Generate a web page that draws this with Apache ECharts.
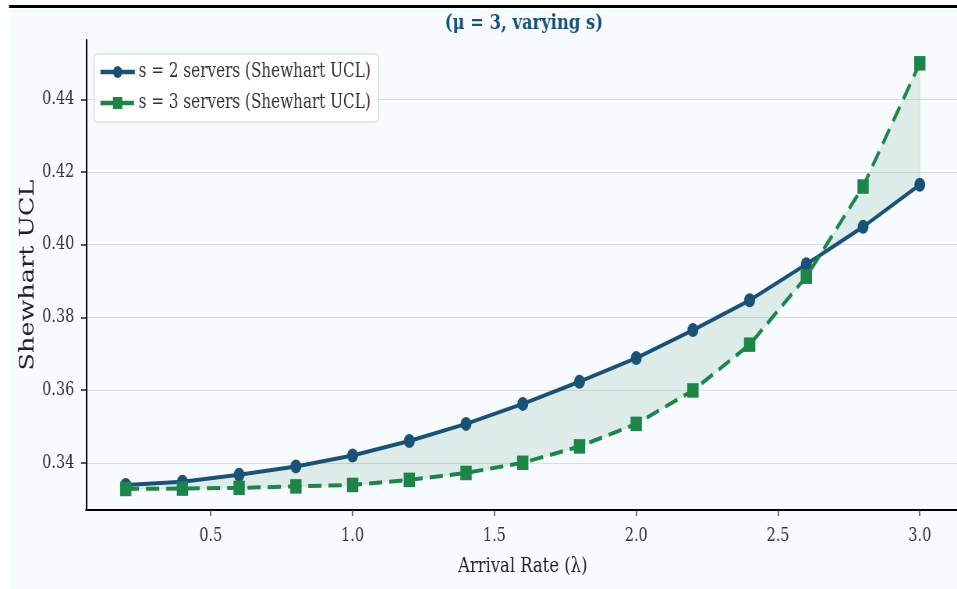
<!DOCTYPE html>
<html>
<head>
<meta charset="utf-8">
<script src="https://cdn.jsdelivr.net/npm/echarts@6/dist/echarts.min.js"></script>
<style>
  html, body { margin: 0; padding: 0; background: #fff; overflow: hidden; }
  #main { height: 589px; transform-origin: 0 0; }
</style>
</head>
<body>
<div id="main"></div>
<script>
// arrival rates and Shewhart UCL per server count
const lambdas = [0.2, 0.4, 0.6, 0.8, 1.0, 1.2, 1.4, 1.6, 1.8, 2.0, 2.2, 2.4, 2.6, 2.8, 3.0]
const ucl2 = [0.3339, 0.3348, 0.3367, 0.3390, 0.3420, 0.3460, 0.3507, 0.3562, 0.3623, 0.3688, 0.3765, 0.3847, 0.3946, 0.4049, 0.4165]
const ucl3 = [0.3328, 0.3329, 0.3331, 0.3335, 0.3339, 0.3353, 0.3372, 0.3400, 0.3445, 0.3507, 0.3599, 0.3725, 0.3912, 0.4160, 0.4499]
const xTicks = [0.5, 1.0, 1.5, 2.0, 2.5, 3.0]
const yTicks = [0.34, 0.36, 0.38, 0.40, 0.42, 0.44]
const seriesNames = ['s = 2 servers (Shewhart UCL)', 's = 3 servers (Shewhart UCL)']

// the reference is squeezed horizontally, so draw wider and scale x
const S = 0.78
const W = Math.round(957 / S)
const el = document.getElementById('main')
el.style.width = W + 'px'
el.style.transform = 'scaleX(' + S + ')'

const FONT = "'DejaVu Serif', serif"
const BLUE = '#1a5276'
const GREEN = '#1e8449'
const pxPerUnit = 283.6

const chart = echarts.init(el)

const option = {
  animation: false,
  backgroundColor: '#ffffff',
  graphic: [
    { type: 'rect', z: -100, shape: { x: 9 / S, y: 9, width: W, height: 580 }, style: { fill: '#f7fbff' }, silent: true },
    { type: 'rect', z: -99, shape: { x: 9 / S, y: 5, width: W, height: 3 }, style: { fill: '#000' }, silent: true }
  ],
  title: {
    text: '(μ = 3, varying s)',
    left: 520 / S,
    textAlign: 'center',
    top: 8,
    textStyle: { fontFamily: FONT, fontWeight: 'bold', fontSize: 21, color: BLUE }
  },
  legend: {
    data: seriesNames,
    orient: 'vertical',
    left: 94 / S,
    top: 54,
    padding: [8, 10, 9, 6],
    itemGap: 11,
    itemWidth: 44,
    itemHeight: 15,
    lineStyle: { width: 4.5 },
    backgroundColor: 'rgba(255,255,255,0.8)',
    borderColor: '#d0d0d0',
    borderWidth: 1,
    borderRadius: 4,
    textStyle: { fontFamily: FONT, fontSize: 19.5, color: '#333' }
  },
  grid: {
    left: 86 / S,
    top: 40,
    width: (3.14 - 0.06) * pxPerUnit / S,
    height: 470,
    outerBoundsMode: 'none'
  },
  xAxis: {
    type: 'value',
    min: 0.06,
    max: 3.14,
    name: 'Arrival Rate (λ)',
    nameLocation: 'middle',
    nameGap: 46,
    nameMoveOverlap: false,
    nameTextStyle: { fontFamily: FONT, fontSize: 21, color: '#222' },
    axisLine: { lineStyle: { color: '#000', width: 2 } },
    axisTick: { customValues: xTicks, length: 6, lineStyle: { color: '#444', width: 1.5 } },
    axisLabel: { customValues: xTicks, formatter: v => v.toFixed(1), fontFamily: FONT, fontSize: 18.5, color: '#333', margin: 17 },
    splitLine: { show: false }
  },
  yAxis: {
    type: 'value',
    min: 0.32701,
    max: 0.45631,
    name: 'Shewhart UCL',
    nameLocation: 'middle',
    nameGap: 61,
    nameMoveOverlap: false,
    nameTextStyle: { fontFamily: FONT, fontSize: 25.5, color: '#222' },
    axisLine: { lineStyle: { color: '#000', width: 2 } },
    axisTick: { customValues: yTicks, length: 6.5, lineStyle: { color: '#222', width: 1.5 } },
    axisLabel: { customValues: yTicks, formatter: v => v.toFixed(2), fontFamily: FONT, fontSize: 18.5, color: '#333', margin: 15 },
    splitLine: { show: false }
  },
  series: [
    {
      // horizontal grid lines
      name: 'grid',
      type: 'line',
      data: [],
      silent: true,
      markLine: {
        silent: true,
        z: 0,
        symbol: 'none',
        label: { show: false },
        lineStyle: { color: '#dcdcdc', width: 1.2, type: 'solid' },
        emphasis: { disabled: true },
        data: yTicks.map(v => ({ yAxis: v }))
      }
    },
    {
      // band between the two curves
      name: 'band',
      type: 'custom',
      silent: true,
      z: 1,
      data: [[lambdas[0], ucl2[0]]],
      renderItem: (params, api) => {
        const top = lambdas.map((x, i) => api.coord([x, ucl2[i]]))
        const bottom = lambdas.map((x, i) => api.coord([x, ucl3[i]])).reverse()
        return {
          type: 'polygon',
          shape: { points: top.concat(bottom) },
          style: { fill: 'rgba(30,132,73,0.12)', stroke: 'rgba(30,132,73,0.12)', lineWidth: 1 }
        }
      }
    },
    {
      name: seriesNames[0],
      type: 'line',
      z: 3,
      data: lambdas.map((x, i) => [x, ucl2[i]]),
      symbol: 'circle',
      symbolSize: 14,
      lineStyle: { color: BLUE, width: 4 },
      itemStyle: { color: BLUE },
      emphasis: { disabled: true }
    },
    {
      name: seriesNames[1],
      type: 'line',
      z: 4,
      data: lambdas.map((x, i) => [x, ucl3[i]]),
      symbol: 'rect',
      symbolSize: 14.5,
      lineStyle: { color: GREEN, width: 4, type: [17, 9] },
      itemStyle: { color: GREEN },
      emphasis: { disabled: true }
    }
  ]
}

chart.setOption(option)
</script>
</body>
</html>
